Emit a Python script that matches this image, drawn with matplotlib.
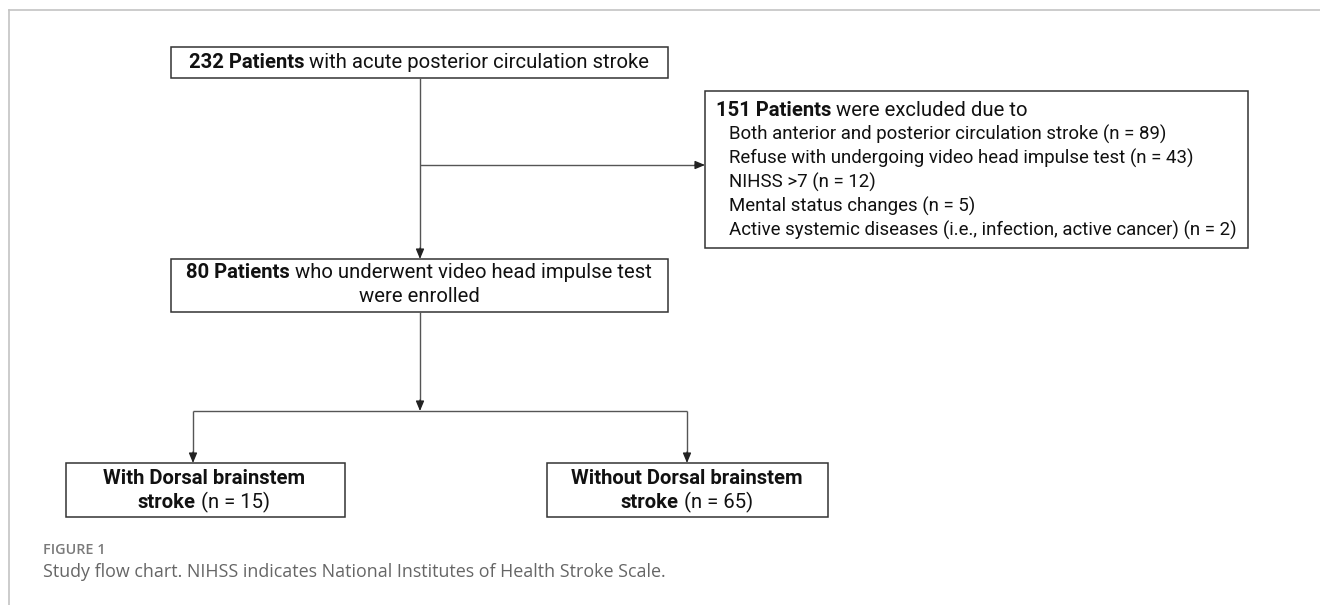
import matplotlib
matplotlib.use("Agg")
import matplotlib.pyplot as plt

# ── Flow chart content ────────────────────────────────────────────────────────
n_total = 232
n_excluded = 151
n_enrolled = 80
n_with = 15
n_without = 65

exclusion_reasons = [
    "Both anterior and posterior circulation stroke",
    "Refuse with undergoing video head impulse test",
    "NIHSS >7",
    "Mental status changes",
    "Active systemic diseases (i.e., infection, active cancer)",
]
exclusion_counts = [89, 43, 12, 5, 2]

caption_label = "FIGURE 1"
caption_text = "Study flow chart. NIHSS indicates National Institutes of Health Stroke Scale."

# ── Figure setup (pixel coordinates, y down) ─────────────────────────────────
W, H = 1320, 605
fig = plt.figure(figsize=(W / 100, H / 100), dpi=100)
ax = fig.add_axes([0, 0, 1, 1])
ax.set_xlim(0, W)
ax.set_ylim(H, 0)
ax.axis("off")

FONT = "Roboto"
FS = 14.6
LC = "#555555"
fig.canvas.draw()
renderer = fig.canvas.get_renderer()


def text_width(s, weight, fs):
    t = ax.text(0, 0, s, fontsize=fs, family=FONT, weight=weight)
    bb = t.get_window_extent(renderer)
    t.remove()
    return bb.width


def runs(x, y, parts, align="center", fs=FS):
    """Draw mixed bold/regular runs on one line."""
    widths = [text_width(s, w, fs) for s, w in parts]
    total = sum(widths)
    cx = x - total / 2 if align == "center" else x
    for (s, w), wd in zip(parts, widths):
        ax.text(cx, y, s, fontsize=fs, family=FONT, weight=w,
                ha="left", va="center", color="#111111")
        cx += wd


def box(x0, y0, x1, y1):
    ax.add_patch(plt.Rectangle((x0, y0), x1 - x0, y1 - y0, fill=False,
                               ec="#333333", lw=1.1))


def arrow(x0, y0, x1, y1):
    ax.annotate("", xy=(x1, y1), xytext=(x0, y0),
                arrowprops=dict(arrowstyle="-|>,head_length=0.6,head_width=0.25",
                                color="#222222", lw=0.9, shrinkA=0, shrinkB=0))


def line(xs, ys):
    ax.plot(xs, ys, color=LC, lw=1.0, solid_capstyle="butt")


# page frame
ax.plot([9, W], [10, 10], color="#c4c4c4", lw=1.2)
ax.plot([9, 9], [10, H], color="#c4c4c4", lw=1.2)

# box 1
box(171, 47, 668, 78)
runs(419, 62, [(f"{n_total} Patients", "bold"),
               (" with acute posterior circulation stroke", "normal")])

# exclusion box
box(705, 91, 1248, 248)
runs(716, 110, [(f"{n_excluded} Patients", "bold"),
                (" were excluded due to", "normal")], align="left")
for i, (r, c) in enumerate(zip(exclusion_reasons, exclusion_counts)):
    runs(729, 134 + i * 24.2, [(f"{r} (n = {c})", "normal")], align="left", fs=13.4)

# main trunk
line([420, 420], [78, 250])
arrow(420, 248, 420, 259)
line([420, 698], [165, 165])
arrow(695, 165, 705, 165)

# box 2
box(171, 259, 668, 312)
runs(419, 273, [(f"{n_enrolled} Patients", "bold"),
                (" who underwent video head impulse test", "normal")])
runs(419, 297, [("were enrolled", "normal")])

# split
line([420, 420], [312, 402])
arrow(420, 400, 420, 411)
line([193, 687], [411, 411])
line([193, 193], [411, 455])
arrow(193, 452, 193, 463)
line([687, 687], [411, 455])
arrow(687, 452, 687, 463)

# box 3 / box 4
box(66, 463, 345, 517)
runs(204, 478, [("With Dorsal brainstem", "bold")])
runs(204, 502, [("stroke", "bold"), (f" (n = {n_with})", "normal")])

box(547, 463, 828, 517)
runs(687, 478, [("Without Dorsal brainstem", "bold")])
runs(687, 502, [("stroke", "bold"), (f" (n = {n_without})", "normal")])

# caption
ax.text(43, 550, caption_label, fontsize=10.4, family="Open Sans", weight="semibold",
        color="#7a7a7a", ha="left", va="center")
ax.text(43, 572, caption_text, fontsize=12.9, family="Open Sans",
        color="#666666", ha="left", va="center")

fig.savefig("out.png", dpi=100)
